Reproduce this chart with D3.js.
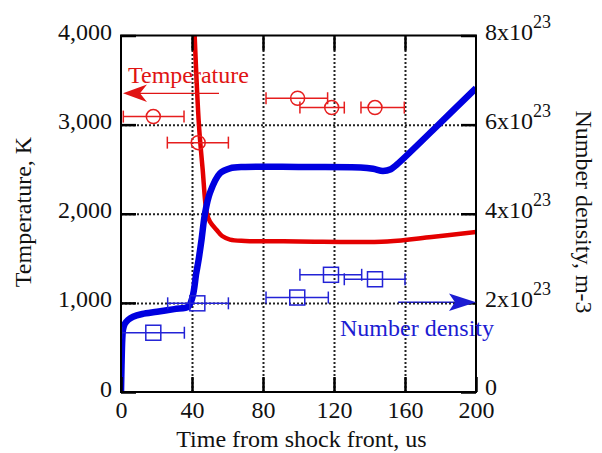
<!DOCTYPE html>
<html><head><meta charset="utf-8">
<script src="https://cdn.jsdelivr.net/npm/d3@7"></script>
<style>
body{margin:0;background:#fff;}
svg{display:block;}
text{font-family:"Liberation Serif","Times New Roman",serif;}
</style></head>
<body><svg id="c" width="602" height="453"></svg>
<script>
// ---- data ----
const xTicks = [0, 40, 80, 120, 160, 200];
const tempTicks = [0, 1000, 2000, 3000, 4000];
const tempTickLabels = ["0", "1,000", "2,000", "3,000", "4,000"];
const densTicks = [0, 2, 4, 6, 8]; // x10^23 m-3
const densTickBase = ["0", "2x10", "4x10", "6x10", "8x10"];
const densExp = "23";

// temperature curve (time us, K)
const tempTime = [41.5, 43.9, 46.0, 48.3, 50.1, 53.9, 57, 61.4, 70, 100, 150, 175, 200];
const tempVal  = [4000, 3000, 2500, 2010, 1911, 1818, 1750, 1710, 1695, 1690, 1690, 1740, 1795];

// number density curve (time us, x10^23 m-3)
const densTime = [0, 0.3, 0.7, 1.1, 2, 4, 6.8, 12, 20.3, 30, 37.9, 39.8, 41.1, 42.25, 43.7, 45.35, 47.3, 50.1, 55.8, 61.4, 70, 100, 135, 142, 147.6, 152, 155.3, 175.8, 200];
const densVal  = [0, 0.6, 1.17, 1.39, 1.52, 1.62, 1.69, 1.75, 1.80, 1.86, 1.915, 2.065, 2.29, 2.63, 2.96, 3.41, 4.0, 4.47, 4.91, 5.02, 5.05, 5.05, 5.04, 5.01, 4.96, 5.0, 5.1, 5.88, 6.82];

// measured temperature points (time, K, time error low, high)
const tMeasTime = [18.2, 43.5, 99.5, 118.7, 143.1];
const tMeasVal  = [3090, 2798, 3296, 3191, 3191];
const tMeasLo   = [1.3, 26.1, 81.7, 100.8, 135.2];
const tMeasHi   = [35.5, 60.5, 116.4, 125.8, 159.6];

// measured number density points (time, x10^23, time low, high)
const nMeasTime = [18.2, 43.0, 99.3, 118.3, 143.1];
const nMeasVal  = [1.33, 1.99, 2.12, 2.63, 2.53];
const nMeasLo   = [0.4, 26.3, 81.7, 100.8, 125.8];
const nMeasHi   = [35.7, 60.5, 116.8, 135.6, 160.0];

// ---- layout ----
const L = 121, R = 476, T = 35.5, B = 392;
const svg = d3.select("#c");
const x = d3.scaleLinear().domain([0, 200]).range([L, R]);
const yT = d3.scaleLinear().domain([0, 4000]).range([B, T]);
const yN = d3.scaleLinear().domain([0, 8]).range([B, T]);

const RED = "#e40000", BLUE = "#0000e0";
const REDM = "#e61e1e", BLUEM = "#2323d6";

// blue arrow shaft (under grid)
svg.append("line").attr("x1", 398).attr("x2", 460).attr("y1", 302.3).attr("y2", 302.3).attr("stroke", "#1c1cd2").attr("stroke-width", 1.5);

// grid
const gx = svg.append("g").attr("transform", `translate(0,${B})`)
  .call(d3.axisBottom(x).tickValues(xTicks.slice(1, -1)).tickSize(-(B - T)).tickFormat(""));
const gy = svg.append("g").attr("transform", `translate(${L},0)`)
  .call(d3.axisLeft(yT).tickValues(tempTicks.slice(1, -1)).tickSize(-(R - L)).tickFormat(""));
[gx, gy].forEach(g => {
  g.select(".domain").remove();
  g.selectAll("line").attr("stroke", "#222").attr("stroke-width", 2).attr("stroke-dasharray", "2,2");
});

// clip
svg.append("clipPath").attr("id", "clip").append("rect")
  .attr("x", L).attr("y", T).attr("width", R - L).attr("height", B - T);

// curves
const tempData = tempTime.map((t, i) => [t, tempVal[i]]);
const densData = densTime.map((t, i) => [t, densVal[i]]);
svg.append("path").datum(tempData).attr("clip-path", "url(#clip)")
  .attr("fill", "none").attr("stroke", RED).attr("stroke-width", 4.5)
  .attr("d", d3.line().x(d => x(d[0])).y(d => yT(d[1])).curve(d3.curveCatmullRom.alpha(0.5)));
svg.append("path").datum(densData).attr("clip-path", "url(#clip)")
  .attr("fill", "none").attr("stroke", BLUE).attr("stroke-width", 6.5).attr("stroke-linejoin", "round")
  .attr("d", d3.line().x(d => x(d[0])).y(d => yN(d[1])).curve(d3.curveCatmullRom.alpha(0.5)));

// measured temperature: circles with horizontal error bars
const capH = 6;
const tm = svg.append("g").attr("stroke", REDM).attr("stroke-width", 1.5).attr("fill", "none");
tMeasTime.forEach((t, i) => {
  const yy = yT(tMeasVal[i]);
  tm.append("line").attr("x1", x(tMeasLo[i])).attr("x2", x(tMeasHi[i])).attr("y1", yy).attr("y2", yy);
  tm.append("line").attr("x1", x(tMeasLo[i])).attr("x2", x(tMeasLo[i])).attr("y1", yy - capH).attr("y2", yy + capH);
  tm.append("line").attr("x1", x(tMeasHi[i])).attr("x2", x(tMeasHi[i])).attr("y1", yy - capH).attr("y2", yy + capH);
  tm.append("circle").attr("cx", x(t)).attr("cy", yy).attr("r", 7);
});
const nm = svg.append("g").attr("stroke", BLUEM).attr("stroke-width", 1.5).attr("fill", "none");
nMeasTime.forEach((t, i) => {
  const yy = yN(nMeasVal[i]);
  nm.append("line").attr("x1", x(nMeasLo[i])).attr("x2", x(nMeasHi[i])).attr("y1", yy).attr("y2", yy);
  nm.append("line").attr("x1", x(nMeasLo[i])).attr("x2", x(nMeasLo[i])).attr("y1", yy - capH).attr("y2", yy + capH);
  nm.append("line").attr("x1", x(nMeasHi[i])).attr("x2", x(nMeasHi[i])).attr("y1", yy - capH).attr("y2", yy + capH);
  nm.append("rect").attr("x", x(t) - 7.5).attr("y", yy - 7.5).attr("width", 15).attr("height", 15);
});

// axes with inward ticks
function styleAxis(g) {
  g.select(".domain").remove();
  g.selectAll("line").attr("stroke", "#000").attr("stroke-width", 2.5);
  g.selectAll("text").attr("font-size", 24).attr("fill", "#111")
    .attr("font-family", '"Liberation Serif","Times New Roman",serif');
}
const ax = svg.append("g").attr("transform", `translate(0,${B})`)
  .call(d3.axisBottom(x).tickValues(xTicks).tickSize(-15).tickFormat(d => d));
styleAxis(ax);
ax.selectAll("text").attr("y", 26).attr("dy", 0);
const axTop = svg.append("g").attr("transform", `translate(0,${T})`)
  .call(d3.axisTop(x).tickValues(xTicks.slice(1, -1)).tickSize(-15).tickFormat(""));
styleAxis(axTop);

const ayl = svg.append("g").attr("transform", `translate(${L},0)`)
  .call(d3.axisLeft(yT).tickValues(tempTicks).tickSize(-15).tickFormat((d, i) => tempTickLabels[i]));
styleAxis(ayl);
ayl.selectAll("text").attr("x", -9).attr("dy", 0).attr("y", 4).attr("text-anchor", "end");

const ayr = svg.append("g").attr("transform", `translate(${R},0)`)
  .call(d3.axisRight(yN).tickValues(densTicks).tickSize(-15).tickFormat((d, i) => densTickBase[i]));
styleAxis(ayr);
ayr.selectAll("text").attr("x", 9).attr("dy", 0).attr("y", 4).attr("text-anchor", "start")
  .each(function (d, i) {
    if (densTicks[i] === 0) { d3.select(this).attr("y", 2); return; }
    d3.select(this).append("tspan").attr("font-size", 18).attr("dy", -12).text(densExp);
  });

// frame
svg.append("rect").attr("x", L).attr("y", T).attr("width", R - L).attr("height", B - T)
  .attr("fill", "none").attr("stroke", "#000").attr("stroke-width", 2);

// axis titles
svg.append("text").attr("x", (L + R) / 2 + 3).attr("y", 447).attr("text-anchor", "middle")
  .attr("font-size", 24).attr("fill", "#111").text("Time from shock front, us");
svg.append("text").attr("transform", `translate(31,212) rotate(-90)`).attr("text-anchor", "middle")
  .attr("font-size", 24).attr("fill", "#111").text("Temperature, K");
svg.append("text").attr("transform", `translate(576,212) rotate(90)`).attr("text-anchor", "middle")
  .attr("font-size", 24).attr("fill", "#111").text("Number density, m-3");

// annotations
svg.append("text").attr("x", 128).attr("y", 83).attr("font-size", 24).attr("fill", "#e01414").text("Temperature");
svg.append("line").attr("x1", 219).attr("x2", 135).attr("y1", 93.3).attr("y2", 93.3).attr("stroke", "#e01414").attr("stroke-width", 1.2);
svg.append("path").attr("fill", "#e01414")
  .attr("d", d3.line()([[123, 93.3], [147, 84.5], [140, 93.3], [147, 102]]) + "Z");

svg.append("text").attr("x", 340).attr("y", 336).attr("font-size", 24).attr("fill", "#1c1cd2").text("Number density");
svg.append("path").attr("fill", "#1c1cd2")
  .attr("d", d3.line()([[476, 302.3], [449, 293.5], [455, 302.3], [449, 311]]) + "Z");
</script></body></html>
